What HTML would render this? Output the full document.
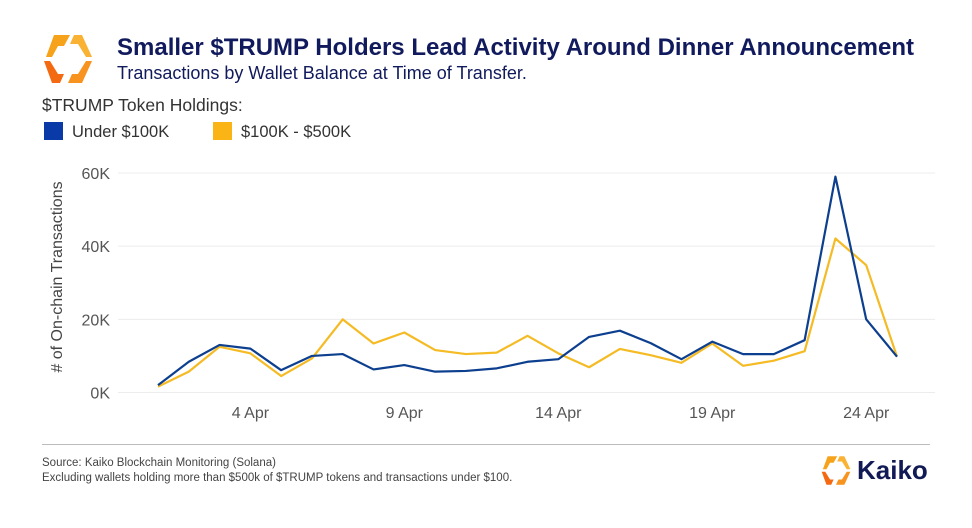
<!DOCTYPE html>
<html><head><meta charset="utf-8"><style>
body{margin:0;background:#fff;width:972px;height:528px;overflow:hidden;font-family:"Liberation Sans",sans-serif;position:relative}
.a{position:absolute;white-space:nowrap}
</style></head><body>
<svg class="a" style="left:40px;top:33px" width="56" height="52" viewBox="0 0 56 52">
<polygon points="14,2 30,2 24,13 18,13 12,24 6,24" fill="#f7a21b"/>
<polygon points="4,28 10,28 18,41 24,41 20,50 12,50" fill="#f46a12"/>
<polygon points="34,2 42,2 52,24 46,24 38,11 30,11" fill="#f9b233"/>
<polygon points="46,28 52,28 42,50 28,50 32,41 38,41" fill="#f7931e"/>
</svg>
<div class="a" style="left:117px;top:34px;font-size:24px;font-weight:bold;color:#101a5c">Smaller $TRUMP Holders Lead Activity Around Dinner Announcement</div>
<div class="a" style="left:117px;top:63px;font-size:18px;color:#101a5c">Transactions by Wallet Balance at Time of Transfer.</div>
<div class="a" style="left:42px;top:95px;font-size:17.5px;color:#333">$TRUMP Token Holdings:</div>
<div class="a" style="left:44px;top:122px;font-size:16.5px;color:#333"><span style="display:inline-block;width:19px;height:18px;background:#0a3aa8;vertical-align:-3px;margin-right:9px"></span>Under $100K</div>
<div class="a" style="left:213px;top:122px;font-size:16.5px;color:#333"><span style="display:inline-block;width:19px;height:18px;background:#fbb416;vertical-align:-3px;margin-right:9px"></span>$100K - $500K</div>
<div class="a" style="left:58px;top:277px;font-size:16px;color:#444;transform:translate(-50%,-50%) rotate(-90deg)"># of On-chain Transactions</div>
<svg id="chart" class="a" style="left:0;top:0" width="972" height="440"></svg>
<div class="a" style="left:42px;top:444px;width:888px;height:1px;background:#bbb"></div>
<div class="a" style="left:42px;top:456px;font-size:11.5px;color:#444;line-height:15px">Source: Kaiko Blockchain Monitoring (Solana)<br>Excluding wallets holding more than $500k of $TRUMP tokens and transactions under $100.</div>
<svg class="a" style="left:819px;top:455px" width="34" height="31" viewBox="0 0 56 52">
<polygon points="14,2 30,2 24,13 18,13 12,24 6,24" fill="#f7a21b"/>
<polygon points="4,28 10,28 18,41 24,41 20,50 12,50" fill="#f46a12"/>
<polygon points="34,2 42,2 52,24 46,24 38,11 30,11" fill="#f9b233"/>
<polygon points="46,28 52,28 42,50 28,50 32,41 38,41" fill="#f7931e"/>
</svg>
<div class="a" style="left:857px;top:455px;font-size:26px;font-weight:bold;color:#121a55">Kaiko</div>
<script>
const days=["1 Apr","2 Apr","3 Apr","4 Apr","5 Apr","6 Apr","7 Apr","8 Apr","9 Apr","10 Apr","11 Apr","12 Apr","13 Apr","14 Apr","15 Apr","16 Apr","17 Apr","18 Apr","19 Apr","20 Apr","21 Apr","22 Apr","23 Apr","24 Apr","25 Apr"];
const under100k=[2,8.4,13,12,6.1,10,10.5,6.3,7.5,5.7,5.9,6.6,8.4,9.1,15.2,16.9,13.5,9.1,13.9,10.5,10.5,14.3,59,20,9.8];
const k100to500=[1.6,5.7,12.5,10.7,4.5,9.3,20,13.4,16.4,11.6,10.5,10.9,15.5,10.7,6.9,11.9,10.2,8.1,13.4,7.3,8.7,11.3,42.1,34.8,9.8];
const yTicks=[0,20,40,60];
const xTickIdx=[3,8,13,18,23];
const svg=document.getElementById('chart');
const NS='http://www.w3.org/2000/svg';
const x=i=>158+i*(897-158)/(days.length-1);
const y=v=>392.5-v*(392.5-173)/60;
function mk(t,a){const e=document.createElementNS(NS,t);for(const k in a)e.setAttribute(k,a[k]);svg.appendChild(e);return e;}
yTicks.forEach(v=>{
 const g=mk('line',{x1:118,x2:935,y1:y(v),y2:y(v),stroke:'#ececec','stroke-width':1});
 
 
 const t=mk('text',{x:110,y:y(v)+6,'text-anchor':'end','font-size':16,fill:'#555','font-family':'Liberation Sans,sans-serif'});
 t.textContent=v+'K';
 
 
});
xTickIdx.forEach(i=>{
 const t=mk('text',{x:x(i),y:418,'text-anchor':'middle','font-size':16,fill:'#555','font-family':'Liberation Sans,sans-serif'});
 t.textContent=days[i];
 
 
});
function line(d,c,n){
 const p=mk('polyline',{points:d.map((v,i)=>x(i)+','+y(v)).join(' '),fill:'none',stroke:c,'stroke-width':2.2,'stroke-linejoin':'round'});
 
 
}
line(k100to500,'#f5bb25','line-100k-500k');
line(under100k,'#0d3f8f','line-under-100k');
</script>
</body></html>
